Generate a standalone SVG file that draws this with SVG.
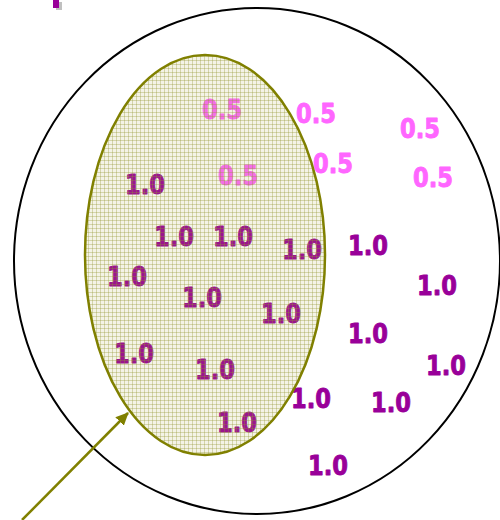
<svg xmlns="http://www.w3.org/2000/svg" width="500" height="520" viewBox="0 0 500 520">
<style>
.t{font-family:"DejaVu Sans","Verdana",sans-serif;font-weight:bold;font-size:26px;stroke-width:0.9px;stroke-linejoin:round}
.one{fill:#990099;stroke:#990099}
.half{fill:#ff66ff;stroke:#ff66ff}
</style>
<defs>
<pattern id="tex" width="4" height="4" patternUnits="userSpaceOnUse">
<rect width="4" height="4" fill="#a8a040" fill-opacity="0.13"/>
<rect width="1" height="4" fill="#909430" fill-opacity="0.33"/>
<rect width="4" height="1" fill="#909430" fill-opacity="0.33"/>
</pattern>
<marker id="ah" markerWidth="13" markerHeight="12" refX="12" refY="6" orient="auto" markerUnits="userSpaceOnUse">
<path d="M0,0 L13,6 L0,12 Z" fill="#808000"/>
</marker>
</defs>
<rect width="500" height="520" fill="#ffffff"/>
<rect x="56" y="2" width="6" height="8" fill="#c0c0c0"/>
<rect x="53" y="0" width="6" height="8" fill="#990099"/>
<g id="universe">
<ellipse cx="257" cy="261" rx="243" ry="253" fill="none" stroke="#000000" stroke-width="2"/>
</g>
<g id="labels">
<text class="t half" x="202" y="119" textLength="40" lengthAdjust="spacingAndGlyphs">0.5</text>
<text class="t half" x="218" y="185" textLength="40" lengthAdjust="spacingAndGlyphs">0.5</text>
<text class="t half" x="296" y="123" textLength="40" lengthAdjust="spacingAndGlyphs">0.5</text>
<text class="t half" x="400" y="138" textLength="40" lengthAdjust="spacingAndGlyphs">0.5</text>
<text class="t half" x="313" y="173" textLength="40" lengthAdjust="spacingAndGlyphs">0.5</text>
<text class="t half" x="413" y="187" textLength="40" lengthAdjust="spacingAndGlyphs">0.5</text>
<text class="t one" x="125" y="194" textLength="40" lengthAdjust="spacingAndGlyphs">1.0</text>
<text class="t one" x="154" y="246" textLength="40" lengthAdjust="spacingAndGlyphs">1.0</text>
<text class="t one" x="213" y="246" textLength="40" lengthAdjust="spacingAndGlyphs">1.0</text>
<text class="t one" x="282" y="259" textLength="40" lengthAdjust="spacingAndGlyphs">1.0</text>
<text class="t one" x="107" y="286" textLength="40" lengthAdjust="spacingAndGlyphs">1.0</text>
<text class="t one" x="182" y="307" textLength="40" lengthAdjust="spacingAndGlyphs">1.0</text>
<text class="t one" x="261" y="323" textLength="40" lengthAdjust="spacingAndGlyphs">1.0</text>
<text class="t one" x="114" y="363" textLength="40" lengthAdjust="spacingAndGlyphs">1.0</text>
<text class="t one" x="195" y="379" textLength="40" lengthAdjust="spacingAndGlyphs">1.0</text>
<text class="t one" x="217" y="432" textLength="40" lengthAdjust="spacingAndGlyphs">1.0</text>
<text class="t one" x="348" y="255" textLength="40" lengthAdjust="spacingAndGlyphs">1.0</text>
<text class="t one" x="417" y="295" textLength="40" lengthAdjust="spacingAndGlyphs">1.0</text>
<text class="t one" x="348" y="343" textLength="40" lengthAdjust="spacingAndGlyphs">1.0</text>
<text class="t one" x="426" y="375" textLength="40" lengthAdjust="spacingAndGlyphs">1.0</text>
<text class="t one" x="291" y="408" textLength="40" lengthAdjust="spacingAndGlyphs">1.0</text>
<text class="t one" x="371" y="412" textLength="40" lengthAdjust="spacingAndGlyphs">1.0</text>
<text class="t one" x="308" y="475" textLength="40" lengthAdjust="spacingAndGlyphs">1.0</text>
</g>
<g id="subset">
<ellipse cx="205" cy="255" rx="120" ry="200" fill="url(#tex)" stroke="#808000" stroke-width="2.5"/>
</g>
<g id="connectors">
<line x1="22" y1="520" x2="128" y2="413" stroke="#808000" stroke-width="2.5" marker-end="url(#ah)"/>
</g>
</svg>
